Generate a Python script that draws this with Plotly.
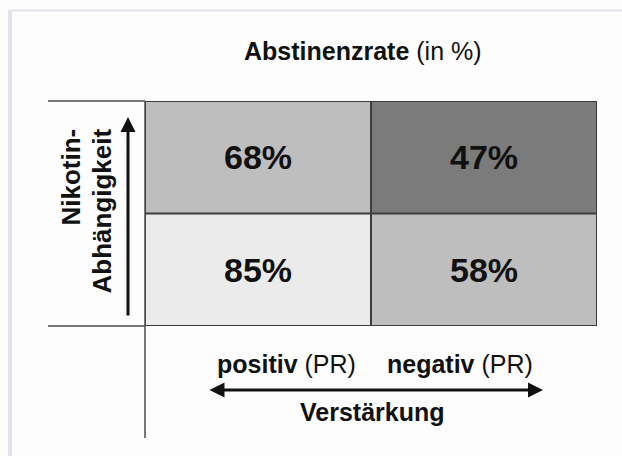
import plotly.graph_objects as go

# Data
col_labels = ["positiv (PR)", "negativ (PR)"]
row_labels = ["niedrig", "hoch"]          # Nikotin-Abhängigkeit (bottom -> top)
rates = [[85, 58],                        # low dependence
         [68, 47]]                        # high dependence
title_bold = "Abstinenzrate"
title_rest = " (in %)"
x_title = "Verstärkung"
y_title_lines = ["Nikotin-", "Abhängigkeit"]

W, H = 622, 456
L, R, T, B = 145, 25, 101, 130
pw, ph = W - L - R, H - T - B


def px(x):
    return (x - L) / pw


def py(y):
    return (H - B - y) / ph


FONT = "Liberation Sans, Arial, sans-serif"

colorscale = [[0.0, "#7b7b7b"], [0.25, "#7b7b7b"],
              [0.25, "#bebebe"], [0.75, "#bebebe"],
              [0.75, "#ebebeb"], [1.0, "#ebebeb"]]

fig = go.Figure(go.Heatmap(
    z=rates, x=[0, 1], y=[0, 1],
    zmin=40, zmax=90, colorscale=colorscale, showscale=False,
    texttemplate="<b>%{z}%</b>",
    textfont=dict(family=FONT, size=34, color="#111111"),
    hoverinfo="skip",
))

line_col = "#3c3c3c"
shapes = []
# cell grid
for xv in (-0.5, 0.5, 1.5):
    shapes.append(dict(type="line", xref="x", yref="y", x0=xv, x1=xv, y0=-0.5, y1=1.5,
                       line=dict(color=line_col, width=2)))
for yv in (-0.5, 0.5, 1.5):
    shapes.append(dict(type="line", xref="x", yref="y", x0=-0.5, x1=1.5, y0=yv, y1=yv,
                       line=dict(color=line_col, width=2)))
# left header lines and long vertical line
shapes.append(dict(type="line", xref="paper", yref="paper", x0=px(48), x1=0, y0=1, y1=1,
                   line=dict(color="#4a4a4a", width=1.5)))
shapes.append(dict(type="line", xref="paper", yref="paper", x0=px(48), x1=0, y0=0, y1=0,
                   line=dict(color="#4a4a4a", width=1.5)))
shapes.append(dict(type="line", xref="paper", yref="paper", x0=0, x1=0, y0=1, y1=py(438),
                   line=dict(color="#4a4a4a", width=1.5)))
# outer frame (light)
shapes.append(dict(type="line", xref="paper", yref="paper", x0=px(10), x1=px(622), y0=py(10.5), y1=py(10.5),
                   line=dict(color="#dfe3f0", width=2)))
shapes.append(dict(type="line", xref="paper", yref="paper", x0=px(10), x1=px(10), y0=py(10), y1=py(456),
                   line=dict(color="#dfe3f0", width=4)))

ann = []
ann.append(dict(xref="paper", yref="paper", x=px(363), y=py(51),
                text=f"<b>{title_bold}</b>{title_rest}", showarrow=False,
                font=dict(family=FONT, size=25, color="#111111"),
                xanchor="center", yanchor="middle"))
# column labels
bold_parts = ["positiv", "negativ"]
for lab, b, cx in zip(col_labels, bold_parts, (286, 460)):
    rest = lab[len(b):]
    ann.append(dict(xref="paper", yref="paper", x=px(cx), y=py(364),
                    text=f"<b>{b}</b>{rest}", showarrow=False,
                    font=dict(family=FONT, size=25, color="#111111"),
                    xanchor="center", yanchor="middle"))
ann.append(dict(xref="paper", yref="paper", x=px(372), y=py(412),
                text=f"<b>{x_title}</b>", showarrow=False,
                font=dict(family=FONT, size=25, color="#111111"),
                xanchor="center", yanchor="middle"))
# double arrow
ann.append(dict(xref="paper", yref="paper", x=px(543), y=py(390), ax=-335, ay=0,
                text="", showarrow=True, arrowhead=2, arrowside="end+start",
                arrowwidth=3, arrowsize=1, arrowcolor="#111111"))
# up arrow
ann.append(dict(xref="paper", yref="paper", x=px(128), y=py(117), ax=0, ay=200,
                text="", showarrow=True, arrowhead=2, arrowwidth=3, arrowsize=1,
                arrowcolor="#111111"))
# rotated y labels
for txt, cx in zip(y_title_lines, (70, 101)):
    ann.append(dict(xref="paper", yref="paper", x=px(cx), y=py(127),
                    text=f"<b>{txt}</b>", showarrow=False, textangle=-90,
                    font=dict(family=FONT, size=26, color="#111111"),
                    xanchor="center", yanchor="top"))

fig.update_layout(
    width=W, height=H,
    margin=dict(l=L, r=R, t=T, b=B, pad=0),
    paper_bgcolor="#fdfdfd", plot_bgcolor="#fdfdfd",
    xaxis=dict(range=[-0.5, 1.5], visible=False, fixedrange=True),
    yaxis=dict(range=[-0.5, 1.5], visible=False, fixedrange=True),
    shapes=shapes, annotations=ann, showlegend=False,
)

fig.write_html("out.html", config={"displayModeBar": False, "staticPlot": True},
               post_script="document.body.style.margin='0';document.body.style.overflow='hidden';")
